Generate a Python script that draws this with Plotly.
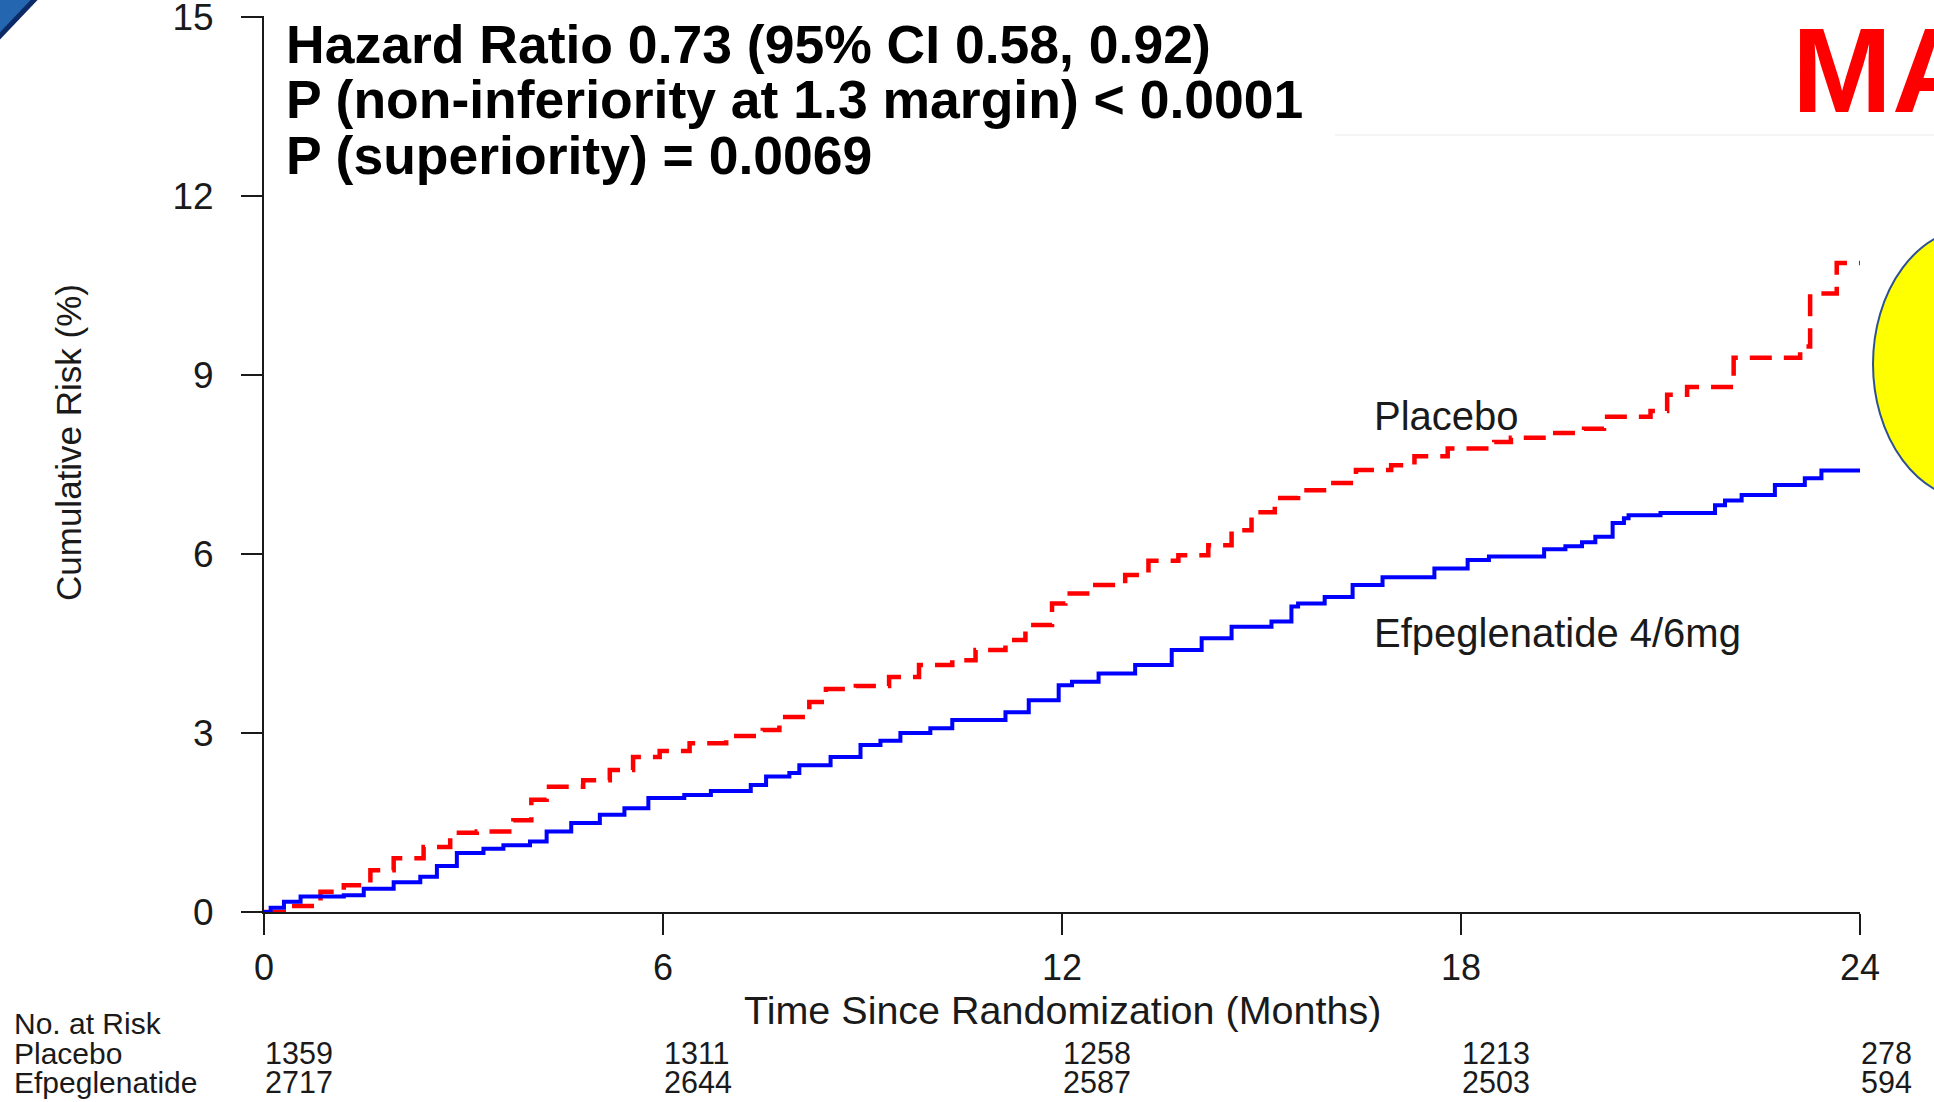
import plotly.graph_objects as go

# ---------------- data ----------------
placebo_t = [0, 0.42, 0.85, 1.2, 1.6, 1.95, 2.4, 2.8, 3.2, 3.75, 4.02, 4.25, 4.8, 5.2, 5.55,
             5.95, 6.4, 6.95, 7.5, 7.75, 8.2, 8.45, 8.9, 9.4, 9.85, 10.35, 10.7, 11.15, 11.45,
             11.85, 12.05, 12.5, 12.95, 13.3, 13.75, 14.2, 14.55, 14.85, 15.2, 15.55, 16.0,
             16.42, 16.95, 17.3, 17.8, 18.5, 18.75, 19.35, 19.85, 20.15, 20.85, 21.1, 21.4,
             22.1, 23.1, 23.25, 23.65, 24.0]
placebo_risk = [0, 0.1, 0.34, 0.45, 0.7, 0.9, 1.09, 1.33, 1.35, 1.54, 1.88, 2.1, 2.21, 2.38, 2.6,
                2.7, 2.83, 2.95, 3.05, 3.27, 3.52, 3.74, 3.79, 3.94, 4.14, 4.22, 4.39, 4.56, 4.81,
                5.17, 5.34, 5.48, 5.65, 5.89, 5.98, 6.15, 6.4, 6.7, 6.94, 7.07, 7.19,
                7.41, 7.49, 7.64, 7.77, 7.88, 7.95, 8.03, 8.1, 8.3, 8.4, 8.67, 8.8,
                9.29, 9.48, 10.37, 10.88, 10.88]

efpeg_t = [0, 0.1, 0.3, 0.55, 1.2, 1.5, 1.95, 2.35, 2.6, 2.9, 3.3, 3.6, 4.0, 4.25, 4.62, 5.05,
           5.42, 5.78, 6.32, 6.72, 7.32, 7.55, 7.9, 8.05, 8.52, 8.97, 9.27, 9.57, 10.02, 10.35,
           11.15, 11.5, 11.95, 12.15, 12.55, 13.1, 13.65, 14.1, 14.55, 15.15, 15.45, 15.55,
           15.95, 16.37, 16.82, 17.6, 18.1, 18.42, 19.25, 19.57, 19.82, 20.02, 20.28, 20.45,
           20.52, 21.0, 21.82, 21.97, 22.22, 22.72, 23.17, 23.42, 24.0]
efpeg_risk = [0, 0.07, 0.17, 0.26, 0.28, 0.39, 0.5, 0.59, 0.77, 0.99, 1.06, 1.12, 1.18, 1.35, 1.49, 1.63,
              1.74, 1.91, 1.96, 2.03, 2.13, 2.27, 2.33, 2.46, 2.6, 2.8, 2.87, 3.0, 3.08, 3.22,
              3.35, 3.55, 3.8, 3.86, 4.0, 4.14, 4.39, 4.59, 4.78, 4.87, 5.12, 5.17,
              5.28, 5.48, 5.61, 5.76, 5.9, 5.96, 6.08, 6.13, 6.2, 6.29, 6.52, 6.6,
              6.65, 6.69, 6.82, 6.9, 6.99, 7.16, 7.27, 7.4, 7.4]

x_ticks = [0, 6, 12, 18, 24]
y_ticks = [0, 3, 6, 9, 12, 15]
risk_times = [0, 6, 12, 18, 24]
at_risk_placebo = [1359, 1311, 1258, 1213, 278]
at_risk_efpeg = [2717, 2644, 2587, 2503, 594]

stats_lines = ["Hazard Ratio 0.73 (95% CI 0.58, 0.92)",
               "P (non-inferiority at 1.3 margin) < 0.0001",
               "P (superiority) = 0.0069"]

# ---------------- layout geometry ----------------
W, H = 1934, 1102
L, R, T, B = 264, 74, 16, 190
PW, PH = W - L - R, H - T - B
Y_MAX = 15.02


def px(xp):
    return (xp - L) / PW


def py(yp):
    return (H - B - yp) / PH


FONT = "Liberation Sans, Arial, sans-serif"
TXT = "#1a1a1a"

fig = go.Figure()
fig.add_trace(go.Scatter(x=placebo_t, y=placebo_risk, mode="lines", line_shape="hv",
                         line=dict(color="#FF0000", width=4.5, dash="22px,12px"),
                         name="Placebo", showlegend=False, cliponaxis=False))
fig.add_trace(go.Scatter(x=efpeg_t, y=efpeg_risk, mode="lines", line_shape="hv",
                         line=dict(color="#0000FF", width=4),
                         name="Efpeglenatide 4/6mg", showlegend=False, cliponaxis=False))

ann = []
# statistics text
for i, s in enumerate(stats_lines):
    ann.append(dict(text=s, xref="paper", yref="paper", x=px(284), y=py(44 + i * 55.5),
                    xanchor="left", yanchor="middle", showarrow=False,
                    font=dict(family=FONT, size=53.5, color="#000000", weight="bold")))
# curve labels
ann.append(dict(text="Placebo", xref="paper", yref="paper", x=px(1372), y=py(416),
                xanchor="left", yanchor="middle", showarrow=False,
                font=dict(family=FONT, size=40, color=TXT)))
ann.append(dict(text="Efpeglenatide 4/6mg", xref="paper", yref="paper", x=px(1372), y=py(633),
                xanchor="left", yanchor="middle", showarrow=False,
                font=dict(family=FONT, size=40, color=TXT)))
# axis titles
ann.append(dict(text="Time Since Randomization (Months)", xref="x", yref="paper", x=12, y=py(1010),
                xanchor="center", yanchor="middle", showarrow=False,
                font=dict(family=FONT, size=39.5, color=TXT)))
ann.append(dict(text="Cumulative Risk (%)", xref="paper", yref="paper", x=px(68), y=py(443),
                xanchor="center", yanchor="middle", showarrow=False, textangle=-90,
                font=dict(family=FONT, size=35, color=TXT)))
# at risk table
row_y = [1023, 1053, 1082]
for lab, yy in zip(["No. at Risk", "Placebo", "Efpeglenatide"], row_y):
    ann.append(dict(text=lab, xref="paper", yref="paper", x=px(12), y=py(yy),
                    xanchor="left", yanchor="middle", showarrow=False,
                    font=dict(family=FONT, size=30, color=TXT)))
for t, a, b in zip(risk_times, at_risk_placebo, at_risk_efpeg):
    for val, yy in ((a, row_y[1]), (b, row_y[2])):
        ann.append(dict(text=str(val), xref="x", yref="paper", x=t, y=py(yy),
                        xanchor="left", yanchor="middle", showarrow=False, xshift=-1,
                        font=dict(family=FONT, size=30.5, color=TXT)))
# red "MA" heading (clipped at the right edge, as in the slide)
ann.append(dict(text="MA", xref="paper", yref="paper", x=px(1790), y=py(70),
                xanchor="left", yanchor="middle", showarrow=False,
                font=dict(family=FONT, size=120, color="#FF0000", weight="bold")))

shapes = [
    # yellow ellipse clipped at right edge
    dict(type="circle", xref="paper", yref="paper", x0=px(1873), x1=px(2075), y0=py(228), y1=py(500),
         fillcolor="#FFFF00", line=dict(color="#2F528F", width=2), layer="above"),
    # top-left corner decoration
    dict(type="path", xref="paper", yref="paper",
         path=f"M {px(-2)},{py(-2)} L {px(36)},{py(-2)} L {px(-2)},{py(38)} Z",
         fillcolor="#2467b0", line=dict(width=0), layer="above"),
    dict(type="line", xref="paper", yref="paper", x0=px(36), y0=py(-2), x1=px(-2), y1=py(38),
         line=dict(color="#0b2a66", width=5), layer="above"),
    # faint slide-background line near top right
    dict(type="line", xref="paper", yref="paper", x0=px(1335), y0=py(135), x1=px(1934), y1=py(135),
         line=dict(color="#f4f5f6", width=2), layer="below"),
]

fig.update_layout(
    width=W, height=H, autosize=False,
    margin=dict(l=L, r=R, t=T, b=B, pad=0, autoexpand=False),
    paper_bgcolor="#FFFFFF", plot_bgcolor="rgba(0,0,0,0)",
    annotations=ann, shapes=shapes, showlegend=False,
    font=dict(family=FONT, color=TXT),
)
fig.update_xaxes(range=[0, 24], tickvals=x_ticks, ticktext=[str(v) for v in x_ticks],
                 showline=True, linecolor=TXT, linewidth=2, ticks="outside", ticklen=21,
                 tickwidth=2, tickcolor=TXT, showgrid=False, zeroline=False, automargin=False,
                 tickfont=dict(family=FONT, size=36, color=TXT), ticklabelstandoff=2,
                 ticklabeloverflow="allow")
fig.update_yaxes(range=[0, Y_MAX], tickvals=y_ticks, ticktext=[str(v) for v in y_ticks],
                 showline=True, linecolor=TXT, linewidth=2, ticks="outside", ticklen=21,
                 tickwidth=2, tickcolor=TXT, showgrid=False, zeroline=False, automargin=False,
                 tickfont=dict(family=FONT, size=37, color=TXT), ticklabelstandoff=20,
                 ticklabeloverflow="allow")

fig.write_html("out.html", config={"displayModeBar": False},
               post_script="document.body.style.margin='0';document.body.style.overflow='hidden';")
